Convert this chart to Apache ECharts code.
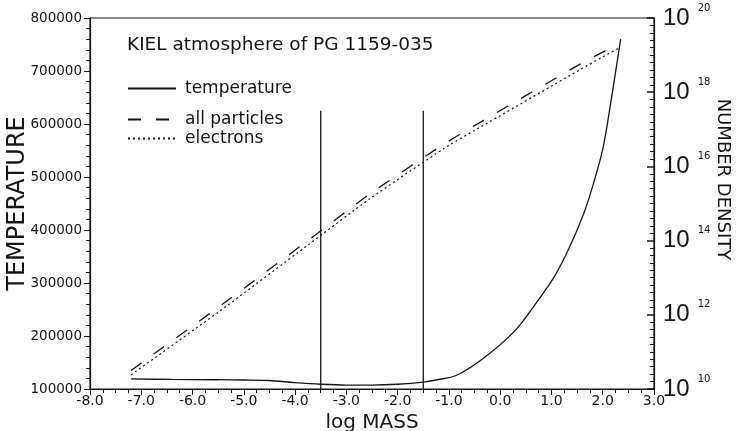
<!DOCTYPE html>
<html>
<head>
<meta charset="utf-8">
<script src="https://cdn.jsdelivr.net/npm/echarts@6/dist/echarts.min.js"></script>
<style>
  html, body { margin: 0; padding: 0; background: #fff; }
  #chart { width: 740px; height: 431px; }
</style>
</head>
<body>
<div id="chart"></div>
<script>
// temperature curve (log mass vs T)
const massTemp = [-7.2, -6.4, -5.5, -5.0, -4.5, -4.0, -3.5, -3.0, -2.5, -2.0, -1.5, -1.25, -0.85, -0.3, 0.3, 0.7, 1.05, 1.35, 1.63, 1.82, 2.0, 2.14, 2.27, 2.35];
const temperature = [119000, 118000, 117500, 117000, 116000, 112000, 109000, 107500, 107500, 109000, 113000, 117000, 126000, 160000, 211000, 262000, 311000, 367000, 431000, 488000, 552000, 630000, 710000, 760000];

// number densities, log10 of n
const massDensity = [-7.2, -5.5, -3.75, -2.55, -1.1, -0.5, 1.55, 2.1, 2.3];
const logAllParticles = [10.5, 12.2, 14.0, 15.25, 16.6, 17.1, 18.75, 19.15, 19.28];
const logElectrons = [10.38, 12.07, 13.88, 15.12, 16.48, 16.97, 18.6, 19.03, 19.18];

// the two vertical markers
const markerMass = [-3.5, -1.5];
const markerTop = 625000;

const titleText = 'KIEL atmosphere of PG 1159-035';
const legendNames = ['temperature', 'all particles', 'electrons'];

const ink = '#151515';
const font = 'DejaVu Sans';

const pairs = (xs, ys) => xs.map((x, i) => [x, ys[i]]);

const myChart = echarts.init(document.getElementById('chart'));

const legendTops = [75, 106, 125];
const legends = legendNames.map((name, i) => ({
  data: [name],
  left: 122,
  top: legendTops[i],
  itemWidth: 48,
  itemHeight: 14,
  itemGap: 0,
  selectedMode: false,
  itemStyle: {opacity: 0},
  textStyle: {color: ink, fontFamily: font, fontSize: 17, padding: [0, 0, 0, 4]}
}));

const markerSeries = markerMass.map(m => ({
  type: 'line',
  data: [[m, 100000], [m, markerTop]],
  symbol: 'none',
  silent: true,
  lineStyle: {color: ink, width: 1.3}
}));

myChart.setOption({
  backgroundColor: '#fff',
  animation: false,
  title: {
    text: titleText,
    left: 122,
    top: 31,
    textStyle: {color: ink, fontFamily: font, fontSize: 18.5, fontWeight: 'normal'}
  },
  legend: legends,
  grid: {
    left: 90,
    right: 86,
    top: 18,
    bottom: 42,
    outerBoundsMode: 'none',
    show: true,
    borderColor: ink,
    borderWidth: 1.2
  },
  xAxis: {
    type: 'value',
    min: -8,
    max: 3,
    interval: 1,
    name: 'log MASS',
    nameLocation: 'middle',
    nameGap: 21,
    nameTextStyle: {color: ink, fontFamily: font, fontSize: 20},
    axisLine: {onZero: false, lineStyle: {color: ink, width: 1.2}},
    axisTick: {length: 6, lineStyle: {color: ink}},
    minorTick: {show: true, splitNumber: 4, length: 4, lineStyle: {color: ink}},
    splitLine: {show: false},
    axisLabel: {
      color: ink, fontFamily: font, fontSize: 14, margin: 5,
      formatter: v => v.toFixed(1)
    }
  },
  yAxis: [
    {
      type: 'value',
      min: 100000,
      max: 800000,
      interval: 100000,
      name: 'TEMPERATURE',
      nameLocation: 'middle',
      nameGap: 60,
      nameMoveOverlap: false,
      nameTextStyle: {color: ink, fontFamily: font, fontSize: 24},
      axisLine: {show: true, onZero: false, lineStyle: {color: ink, width: 1.2}},
      axisTick: {length: 6, lineStyle: {color: ink}},
      minorTick: {show: true, splitNumber: 5, length: 4, lineStyle: {color: ink}},
      splitLine: {show: false},
      axisLabel: {color: ink, fontFamily: font, fontSize: 13.5, margin: 8, formatter: v => String(v)}
    },
    {
      type: 'value',
      position: 'right',
      min: 10,
      max: 20,
      interval: 2,
      name: 'NUMBER DENSITY',
      nameLocation: 'middle',
      nameRotate: -90,
      nameGap: 60,
      nameMoveOverlap: false,
      nameTextStyle: {color: ink, fontFamily: font, fontSize: 18, padding: [0, 48, 0, 0]},
      axisLine: {show: true, onZero: false, lineStyle: {color: ink, width: 1.2}},
      axisTick: {inside: true, length: 7, lineStyle: {color: ink, width: 1.5}},
      minorTick: {show: true, splitNumber: 10, length: 4, lineStyle: {color: ink}},
      splitLine: {show: false},
      axisLabel: {
        margin: 9,
        formatter: v => '{b|10}{s|' + v + '}',
        rich: {
          b: {color: ink, fontFamily: 'Liberation Sans', fontSize: 24, padding: [0, 8, 0, 0]},
          s: {color: ink, fontFamily: font, fontSize: 10, verticalAlign: 'top', padding: [0, 0, 20, 0]}
        }
      }
    }
  ],
  series: [
    {
      name: 'temperature',
      type: 'line',
      data: pairs(massTemp, temperature),
      smooth: 0.3,
      symbol: 'none',
      itemStyle: {color: ink},
      lineStyle: {color: ink, width: 1.3}
    },
    {
      name: 'all particles',
      type: 'line',
      yAxisIndex: 1,
      data: pairs(massDensity, logAllParticles),
      smooth: 0.2,
      symbol: 'none',
      itemStyle: {color: ink},
      lineStyle: {color: ink, width: 1.3, type: [13, 15]}
    },
    {
      name: 'electrons',
      type: 'line',
      yAxisIndex: 1,
      data: pairs(massDensity, logElectrons),
      smooth: 0.2,
      symbol: 'none',
      itemStyle: {color: ink},
      lineStyle: {color: ink, width: 1.2, type: [2, 3]}
    },
    ...markerSeries
  ]
});
</script>
</body>
</html>
